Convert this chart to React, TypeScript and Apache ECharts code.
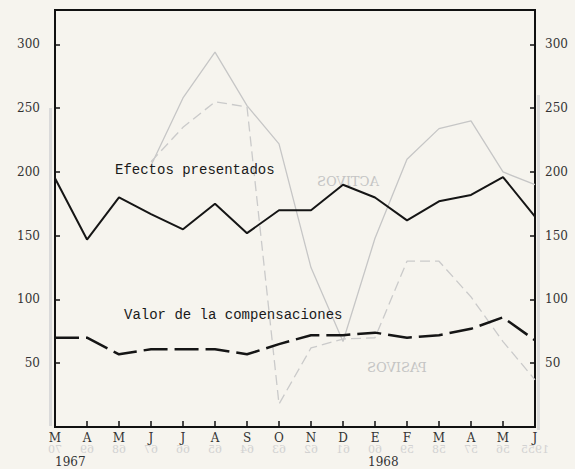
import React, { useEffect, useRef } from "react";
import * as echarts from "echarts";

const categories = ["M", "A", "M", "J", "J", "A", "S", "O", "N", "D", "E", "F", "M", "A", "M", "J"];
const efectos = [195, 147, 180, 167, 155, 175, 152, 170, 170, 190, 180, 162, 177, 182, 196, 165];
const compensaciones = [70, 70, 57, 61, 61, 61, 57, 65, 72, 72, 74, 70, 72, 77, 86, 68];
// faint show-through lines from the reverse page
const activos = [null, null, null, 205, 258, 294, 252, 222, 125, 67, 148, 210, 234, 240, 200, 190];
const pasivos = [null, null, null, 208, 235, 255, 251, 18, 62, 69, 70, 130, 130, 102, 67, 37];
const mirroredYears = ["70", "69", "68", "67", "66", "65", "64", "63", "62", "61", "60", "59", "58", "57", "56", "1955"];

const FONT = "DejaVu Serif";
const NOTE_FONT = "Liberation Mono";

export default function App() {
  const ref = useRef<HTMLDivElement>(null);
  useEffect(() => {
    document.body.style.margin = "0";
    const chart = echarts.init(ref.current!, null, { renderer: "svg" });
    const left = 55, right = 535;
    const step = (right - left) / (categories.length - 1);
    const yearTexts = mirroredYears.map((t, i) => ({
      type: "text",
      x: left + step * i,
      y: 449,
      scaleX: -1,
      style: { text: t, fill: "#d2d2d2", font: `11px ${FONT}`, align: "center", verticalAlign: "middle" },
      z: 1,
    }));
    chart.setOption({
      animation: false,
      backgroundColor: "#f6f4ee",
      grid: { left: 55, right: 40, top: 10, bottom: 42, show: true, borderColor: "#111", borderWidth: 2 },
      xAxis: {
        type: "category",
        data: categories,
        boundaryGap: false,
        axisLine: { lineStyle: { color: "#111", width: 2 } },
        axisTick: { inside: true, length: 6, lineStyle: { color: "#111", width: 1.5 } },
        axisLabel: { color: "#333", fontFamily: FONT, fontSize: 12, margin: 5, interval: 0 },
        splitLine: { show: false },
      },
      yAxis: [
        {
          type: "value",
          min: 0,
          max: 327,
          interval: 50,
          position: "left",
          axisLine: { show: true, lineStyle: { color: "#111", width: 2 } },
          axisTick: { show: true, inside: true, length: 5, lineStyle: { color: "#111", width: 1.5 } },
          axisLabel: {
            color: "#333", fontFamily: FONT, fontSize: 12, margin: 15,
            formatter: (v: number) => (v > 0 && v % 50 === 0 ? String(v) : ""),
          },
          splitLine: { show: false },
        },
        {
          type: "value",
          min: 0,
          max: 327,
          interval: 50,
          position: "right",
          axisLine: { show: true, lineStyle: { color: "#111", width: 2 } },
          axisTick: { show: true, inside: true, length: 5, lineStyle: { color: "#111", width: 1.5 } },
          axisLabel: {
            color: "#333", fontFamily: FONT, fontSize: 12, margin: 10,
            formatter: (v: number) => (v > 0 && v % 50 === 0 ? String(v) : ""),
          },
          splitLine: { show: false },
        },
      ],
      series: [
        {
          name: "ACTIVOS",
          type: "line",
          data: activos,
          symbol: "none",
          lineStyle: { color: "#c6c6c6", width: 1.3 },
          z: 1,
        },
        {
          name: "PASIVOS",
          type: "line",
          data: pasivos,
          symbol: "none",
          lineStyle: { color: "#cacaca", width: 1.3, type: [10, 5] },
          z: 1,
        },
        {
          name: "Efectos presentados",
          type: "line",
          data: efectos,
          symbol: "none",
          lineStyle: { color: "#151515", width: 2 },
          z: 3,
        },
        {
          name: "Valor de la compensaciones",
          type: "line",
          data: compensaciones,
          symbol: "none",
          lineStyle: { color: "#151515", width: 2.5, type: [24, 7] },
          z: 3,
        },
      ],
      graphic: [
        { type: "rect", shape: { x: 49, y: 108, width: 3, height: 318 }, style: { fill: "#dadada" }, z: 0 },
        { type: "rect", shape: { x: 537, y: 95, width: 3, height: 335 }, style: { fill: "#dcdcdc" }, z: 0 },
        {
          type: "text", x: 115, y: 170,
          style: { text: "Efectos presentados", fill: "#1a1a1a", font: `14px ${NOTE_FONT}`, verticalAlign: "middle" },
          z: 5,
        },
        {
          type: "text", x: 124, y: 315,
          style: { text: "Valor de la compensaciones", fill: "#1a1a1a", font: `14px ${NOTE_FONT}`, verticalAlign: "middle" },
          z: 5,
        },
        {
          type: "text", x: 348, y: 181, scaleX: -1,
          style: { text: "ACTIVOS", fill: "#c4c4c4", font: `13px ${FONT}`, align: "center", verticalAlign: "middle" },
          z: 1,
        },
        {
          type: "text", x: 397, y: 367, scaleX: -1,
          style: { text: "PASIVOS", fill: "#c4c4c4", font: `13px ${FONT}`, align: "center", verticalAlign: "middle" },
          z: 1,
        },
        ...yearTexts,
        {
          type: "text", x: 55, y: 462,
          style: { text: "1967", fill: "#333", font: `12px ${FONT}`, align: "left", verticalAlign: "middle" },
          z: 5,
        },
        {
          type: "text", x: 368, y: 462,
          style: { text: "1968", fill: "#333", font: `12px ${FONT}`, align: "left", verticalAlign: "middle" },
          z: 5,
        },
      ],
    });
    return () => chart.dispose();
  }, []);
  return <div ref={ref} style={{ width: 575, height: 469 }} />;
}
